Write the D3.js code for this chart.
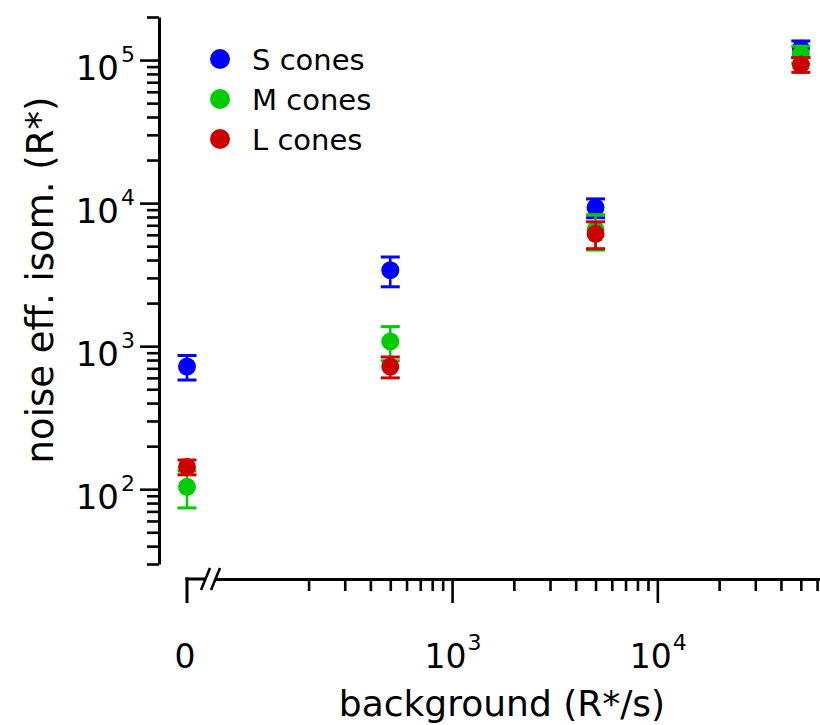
<!DOCTYPE html>
<html>
<head>
<meta charset="utf-8">
<script src="https://cdn.jsdelivr.net/npm/d3@7"></script>
<style>
  html, body { margin: 0; padding: 0; background: #fff; }
  svg { display: block; font-family: "DejaVu Sans", sans-serif; }
</style>
</head>
<body>
<svg id="chart" width="820" height="725"></svg>
<script>
// ---- data ----
const backgrounds = [0, 500, 5000, 50000];
const seriesNames = ["S cones", "M cones", "L cones"];
const seriesColors = ["#0000ff", "#00cc00", "#cc0000"];
const sValues = [720, 3400, 9300, 120000];
const sErrors = [140, 800, 1400, 16000];
const mValues = [104, 1080, 6500, 110000];
const mErrors = [30, 290, 1800, 15000];
const lValues = [143, 720, 6100, 93000];
const lErrors = [17, 120, 1300, 11000];
const yMajorTicks = [100, 1000, 10000, 100000];
const yMajorExps = ["2", "3", "4", "5"];
const xMajorTicks = [1000, 10000];
const xMajorExps = ["3", "4"];

const series = [
  { name: seriesNames[0], color: seriesColors[0], values: sValues, errors: sErrors },
  { name: seriesNames[1], color: seriesColors[1], values: mValues, errors: mErrors },
  { name: seriesNames[2], color: seriesColors[2], values: lValues, errors: lErrors }
];

const svg = d3.select("#chart");

// ---- scales ----
const y = d3.scaleLog().domain([30, 200000]).range([564, 17]);
const xLog = d3.scaleLog().domain([70, 62000]).range([215, 820]);
const xZero = 187;
const xPos = v => v === 0 ? xZero : xLog(v);

// minor ticks
const yTicks = [];
[10, 100, 1000, 10000, 100000].forEach(d => {
  for (let k = 1; k <= 9; k++) {
    const v = d * k;
    if (v >= 30 && v <= 200000) yTicks.push(v);
  }
});
const xTicks = [];
[100, 1000, 10000].forEach(d => {
  for (let k = 1; k <= 9; k++) {
    const v = d * k;
    if (v >= 200 && v <= 60000) xTicks.push(v);
  }
});

// ---- y axis ----
const yAxisX = 159;
const gy = svg.append("g").attr("transform", `translate(${yAxisX},0)`)
  .call(d3.axisLeft(y).tickValues(yTicks).tickSize(12).tickSizeOuter(0).tickFormat(""));
gy.select(".domain").attr("stroke", "#000").attr("stroke-width", 3);
gy.selectAll(".tick line").attr("stroke", "#000").attr("stroke-width", 2.6)
  .attr("x2", d => yMajorTicks.includes(d) ? -19 : -12);

const yLab = svg.append("g").attr("font-size", 34).attr("fill", "#000");
yMajorTicks.forEach((v, i) => {
  const t = yLab.append("text").attr("x", 135).attr("y", y(v) + 20).attr("text-anchor", "end");
  t.append("tspan").text("10");
  t.append("tspan").attr("font-size", 22).attr("dx", 2).attr("dy", -18).text(yMajorExps[i]);
});

// ---- x axis ----
const xAxisY = 579;
const gx = svg.append("g").attr("transform", `translate(0,${xAxisY})`)
  .call(d3.axisBottom(xLog).tickValues(xTicks).tickSize(12).tickSizeOuter(0).tickFormat(""));
gx.select(".domain").attr("stroke", "#000").attr("stroke-width", 3);
gx.selectAll(".tick line").attr("stroke", "#000").attr("stroke-width", 2.6)
  .attr("y2", d => xMajorTicks.includes(d) ? 24 : 12);

// zero segment with break marks
const brk = svg.append("g").attr("stroke", "#000").attr("fill", "none");
brk.append("line").attr("x1", xZero).attr("x2", xZero).attr("y1", xAxisY - 1.5).attr("y2", xAxisY + 24).attr("stroke-width", 3);
brk.append("line").attr("x1", xZero - 1.5).attr("x2", 205).attr("y1", xAxisY).attr("y2", xAxisY).attr("stroke-width", 3);
brk.append("line").attr("x1", 201).attr("y1", xAxisY + 11).attr("x2", 210).attr("y2", xAxisY - 11).attr("stroke-width", 2.6);
brk.append("line").attr("x1", 211).attr("y1", xAxisY + 11).attr("x2", 220).attr("y2", xAxisY - 11).attr("stroke-width", 2.6);

const xLab = svg.append("g").attr("font-size", 33).attr("fill", "#000");
xLab.append("text").attr("x", xZero - 2).attr("y", 668).attr("text-anchor", "middle").text("0");
xMajorTicks.forEach((v, i) => {
  const t = xLab.append("text").attr("x", xLog(v) + 1).attr("y", 668).attr("text-anchor", "middle");
  t.append("tspan").text("10");
  t.append("tspan").attr("font-size", 22).attr("dx", 1).attr("dy", -18).text(xMajorExps[i]);
});

// ---- axis titles ----
svg.append("text").attr("x", 502).attr("y", 716).attr("text-anchor", "middle")
  .attr("font-size", 36).text("background (R*/s)");
svg.append("text").attr("transform", "translate(53,280) rotate(-90)").attr("text-anchor", "middle")
  .attr("font-size", 37).text("noise eff. isom. (R*)");

// ---- data ----
const capHalf = 9.5;
series.forEach(s => {
  const g = svg.append("g");
  backgrounds.forEach((b, i) => {
    const cx = xPos(b);
    const v = s.values[i], e = s.errors[i];
    const yTop = y(v + e), yBot = y(v - e);
    g.append("line").attr("x1", cx).attr("x2", cx).attr("y1", yTop).attr("y2", yBot)
      .attr("stroke", s.color).attr("stroke-width", 2.5);
    [yTop, yBot].forEach(yy => {
      g.append("line").attr("x1", cx - capHalf).attr("x2", cx + capHalf).attr("y1", yy).attr("y2", yy)
        .attr("stroke", s.color).attr("stroke-width", 3);
    });
    g.append("circle").attr("cx", cx).attr("cy", y(v)).attr("r", 9).attr("fill", s.color);
  });
});

// ---- legend ----
const legend = svg.append("g");
series.forEach((s, i) => {
  const ly = 59 + i * 40;
  legend.append("circle").attr("cx", 220).attr("cy", ly).attr("r", 10).attr("fill", s.color);
  legend.append("text").attr("x", 252).attr("y", ly + 11).attr("font-size", 29).attr("fill", "#000").text(s.name);
});
</script>
</body>
</html>
